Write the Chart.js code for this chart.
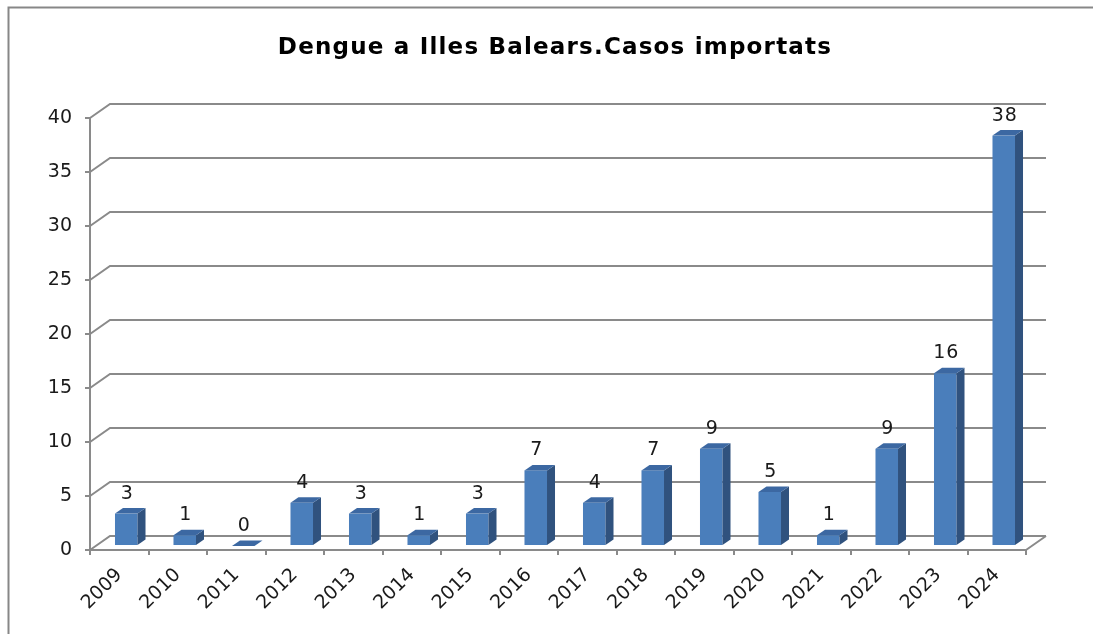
<!DOCTYPE html>
<html>
<head>
<meta charset="utf-8">
<title>Dengue a Illes Balears</title>
<script src="https://cdn.jsdelivr.net/npm/chart.js@4.4.1/dist/chart.umd.min.js"></script>
<style>
  html, body { margin: 0; padding: 0; background: #fff; }
  #wrap { width: 1093px; height: 634px; position: relative; }
</style>
</head>
<body>
<div id="wrap"><canvas id="chart" width="1093" height="634"></canvas></div>
<script>
// data
const chartTitle = 'Dengue a Illes Balears.Casos importats';
const years = ['2009', '2010', '2011', '2012', '2013', '2014', '2015', '2016',
               '2017', '2018', '2019', '2020', '2021', '2022', '2023', '2024'];
const cases = [3, 1, 0, 4, 3, 1, 3, 7, 4, 7, 9, 5, 1, 9, 16, 38];

const FONT = "'DejaVu Sans', Verdana, sans-serif";
const GRID = '#8a8a8a';
// 3d look: back wall offset, bar placement inside the depth, bar depth
const WALL = { dx: 20, dy: -14 };
const SHIFT = { dx: 7, dy: -4 };
const DEPTH = { dx: 8, dy: -5.5 };

const box3d = {
    id: 'box3d',

    beforeDraw(chart) {
        const ctx = chart.ctx;
        ctx.save();
        // outer frame (top + left)
        ctx.strokeStyle = '#878787';
        ctx.lineWidth = 2;
        ctx.beginPath();
        ctx.moveTo(8.5, 634);
        ctx.lineTo(8.5, 7.5);
        ctx.lineTo(1093, 7.5);
        ctx.stroke();
        // title
        ctx.fillStyle = '#000';
        ctx.font = 'bold 23px ' + FONT;
        ctx.letterSpacing = '1.2px';
        ctx.textAlign = 'center';
        ctx.textBaseline = 'alphabetic';
        ctx.fillText(chartTitle, 555, 53.5);
        ctx.restore();
    },

    beforeDatasetsDraw(chart) {
        const { ctx, chartArea: a, scales: { y } } = chart;
        ctx.save();
        ctx.strokeStyle = GRID;
        ctx.lineWidth = 2;
        ctx.beginPath();
        y.ticks.forEach(t => {
            const py = y.getPixelForValue(t.value);
            ctx.moveTo(a.left, py);
            ctx.lineTo(a.left + WALL.dx, py + WALL.dy);
            ctx.lineTo(a.right + WALL.dx, py + WALL.dy);
        });
        // right edge of the floor
        ctx.moveTo(a.right, a.bottom);
        ctx.lineTo(a.right + WALL.dx, a.bottom + WALL.dy);
        ctx.stroke();
        ctx.restore();
    },

    afterDatasetsDraw(chart) {
        const ctx = chart.ctx;
        const meta = chart.getDatasetMeta(0);
        ctx.save();
        meta.data.forEach((bar, i) => {
            const p = bar.getProps(['x', 'y', 'base', 'width'], true);
            const x0 = p.x - p.width / 2 + SHIFT.dx;
            const x1 = p.x + p.width / 2 + SHIFT.dx;
            const yt = p.y + SHIFT.dy;
            const yb = p.base + SHIFT.dy;

            // front
            ctx.fillStyle = '#4a7ebb';
            ctx.fillRect(x0, yt, x1 - x0, yb - yt);
            // side
            ctx.fillStyle = '#30527e';
            ctx.beginPath();
            ctx.moveTo(x1, yt);
            ctx.lineTo(x1 + DEPTH.dx, yt + DEPTH.dy);
            ctx.lineTo(x1 + DEPTH.dx, yb + DEPTH.dy);
            ctx.lineTo(x1, yb);
            ctx.closePath();
            ctx.fill();
            // top
            ctx.fillStyle = '#3c68a2';
            ctx.beginPath();
            ctx.moveTo(x0, yt);
            ctx.lineTo(x1, yt);
            ctx.lineTo(x1 + DEPTH.dx, yt + DEPTH.dy);
            ctx.lineTo(x0 + DEPTH.dx, yt + DEPTH.dy);
            ctx.closePath();
            ctx.fill();

            // value label
            ctx.fillStyle = '#1a1a1a';
            ctx.font = '19px ' + FONT;
            ctx.letterSpacing = '1px';
            ctx.textAlign = 'center';
            ctx.textBaseline = 'alphabetic';
            ctx.fillText(String(cases[i]), (x0 + x1) / 2 + 1, yt - 15);
        });
        ctx.restore();
    }
};

new Chart(document.getElementById('chart'), {
    type: 'bar',
    data: {
        labels: years,
        datasets: [{
            label: 'Casos importats',
            data: cases,
            backgroundColor: 'rgba(0,0,0,0)',
            borderWidth: 0,
            categoryPercentage: 1,
            barPercentage: 0.385
        }]
    },
    options: {
        responsive: false,
        animation: false,
        layout: { padding: { top: 118, right: 67, left: 0, bottom: 0 } },
        plugins: {
            legend: { display: false },
            title: { display: false },
            tooltip: { enabled: false }
        },
        scales: {
            x: {
                grid: { drawOnChartArea: false, drawTicks: true, tickLength: 5, color: GRID, lineWidth: 2 },
                border: { display: true, color: GRID, width: 2 },
                ticks: {
                    color: '#1a1a1a',
                    font: { family: FONT, size: 19 },
                    maxRotation: 45,
                    minRotation: 45,
                    autoSkip: false,
                    padding: 9
                },
                afterFit(scale) { scale.height = 84; }
            },
            y: {
                min: 0,
                max: 40,
                grid: { drawOnChartArea: false, drawTicks: true, tickLength: 5, color: GRID, lineWidth: 2 },
                border: { display: true, color: GRID, width: 2 },
                ticks: {
                    stepSize: 5,
                    color: '#1a1a1a',
                    font: { family: FONT, size: 19 },
                    padding: 13
                },
                afterFit(scale) { scale.width = 90; }
            }
        }
    },
    plugins: [box3d]
});
</script>
</body>
</html>
